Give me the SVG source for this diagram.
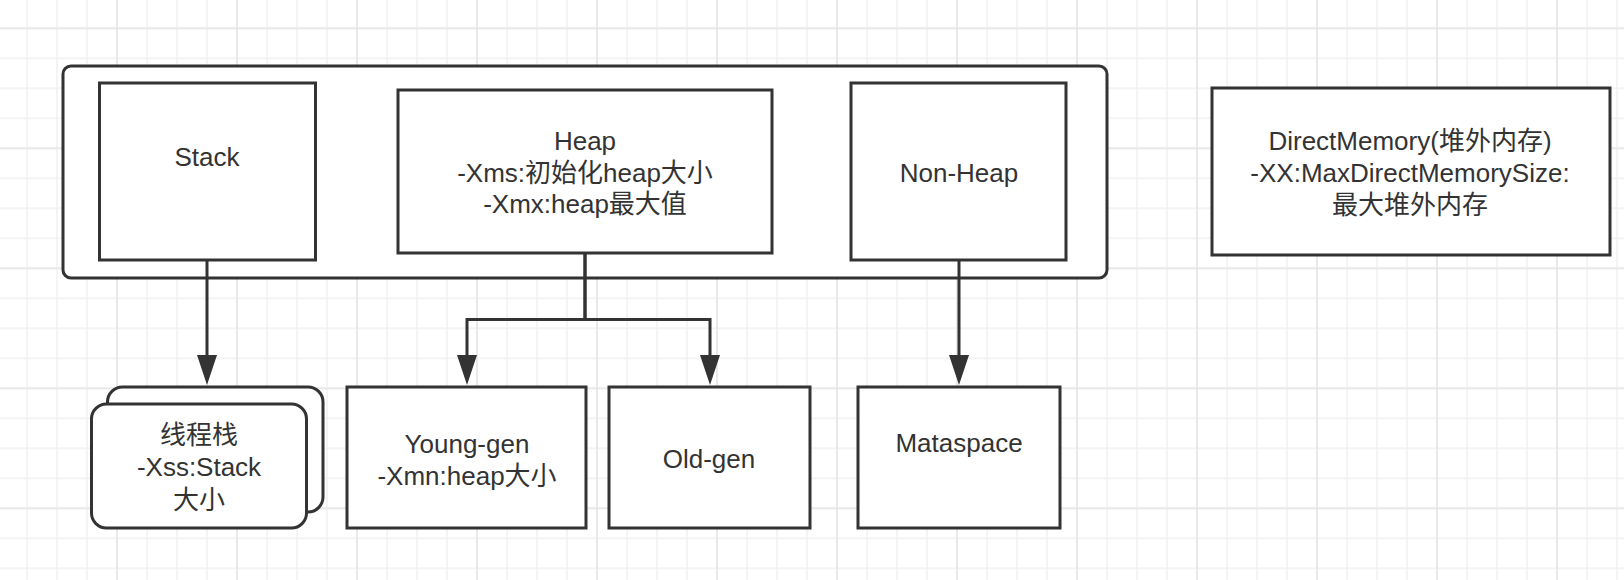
<svg xmlns="http://www.w3.org/2000/svg" width="1624" height="580" viewBox="0 0 1624 580">
<style>
.box{fill:#ffffff;stroke:#333333;stroke-width:3}
.conn{fill:none;stroke:#333333;stroke-width:3}
.t{font-family:"Liberation Sans","Noto Sans CJK SC",sans-serif;font-size:26px;fill:#333333;text-anchor:middle}
</style>
<defs>
<pattern id="minor" patternUnits="userSpaceOnUse" x="12" y="13.3" width="30" height="30">
<path d="M15,0 V30 M0,15 H30" stroke="#f1f1f1" stroke-width="1.5" fill="none"/>
</pattern>
<pattern id="major" patternUnits="userSpaceOnUse" x="57" y="88.3" width="120" height="120">
<path d="M60,0 V120 M0,60 H120" stroke="#e6e6e6" stroke-width="1.5" fill="none"/>
</pattern>
<marker id="arrow" markerUnits="userSpaceOnUse" markerWidth="30" markerHeight="20" refX="0" refY="10" orient="auto" overflow="visible">
<path d="M0,0 L30,10 L0,20 Z" fill="#333333"/>
</marker>
</defs>
<rect width="1624" height="580" fill="#ffffff"/>
<rect width="1624" height="580" fill="url(#minor)"/>
<rect width="1624" height="580" fill="url(#major)"/>

<g id="jvm">
<rect class="box" x="63" y="66" width="1044" height="212" rx="8"/>
</g>

<g id="connectors">
<path class="conn" d="M207,260 V355" marker-end="url(#arrow)"/>
<path class="conn" d="M585,253 V319.5 H467 V355" marker-end="url(#arrow)"/>
<path class="conn" d="M585,253 V319.5 H710 V355" marker-end="url(#arrow)"/>
<path class="conn" d="M959,260 V355" marker-end="url(#arrow)"/>
</g>

<g id="stack">
<rect class="box" x="99.5" y="83" width="216" height="177"/>
<text class="t" x="207" y="166">Stack</text>
</g>

<g id="heap">
<rect class="box" x="398" y="90" width="374" height="163"/>
<text class="t" x="585" y="150">Heap</text>
<text class="t" x="585" y="182">-Xms:初始化heap大小</text>
<text class="t" x="585" y="213">-Xmx:heap最大值</text>
</g>

<g id="nonheap">
<rect class="box" x="851" y="83" width="215" height="177"/>
<text class="t" x="959" y="182">Non-Heap</text>
</g>

<g id="directmemory">
<rect class="box" x="1212" y="88" width="398" height="167"/>
<text class="t" x="1410" y="150">DirectMemory(堆外内存)</text>
<text class="t" x="1410" y="182">-XX:MaxDirectMemorySize:</text>
<text class="t" x="1410" y="214">最大堆外内存</text>
</g>

<g id="threadstack">
<rect class="box" x="107.5" y="387" width="215.5" height="125" rx="15"/>
<rect class="box" x="91.5" y="404" width="215" height="124" rx="15"/>
<text class="t" x="199" y="444">线程栈</text>
<text class="t" x="199" y="476">-Xss:Stack</text>
<text class="t" x="199" y="509">大小</text>
</g>

<g id="younggen">
<rect class="box" x="347" y="387" width="239" height="141"/>
<text class="t" x="467" y="453">Young-gen</text>
<text class="t" x="467" y="485">-Xmn:heap大小</text>
</g>

<g id="oldgen">
<rect class="box" x="609" y="387" width="201" height="141"/>
<text class="t" x="709" y="468">Old-gen</text>
</g>

<g id="mataspace">
<rect class="box" x="858" y="387" width="202" height="141"/>
<text class="t" x="959" y="452">Mataspace</text>
</g>
</svg>
